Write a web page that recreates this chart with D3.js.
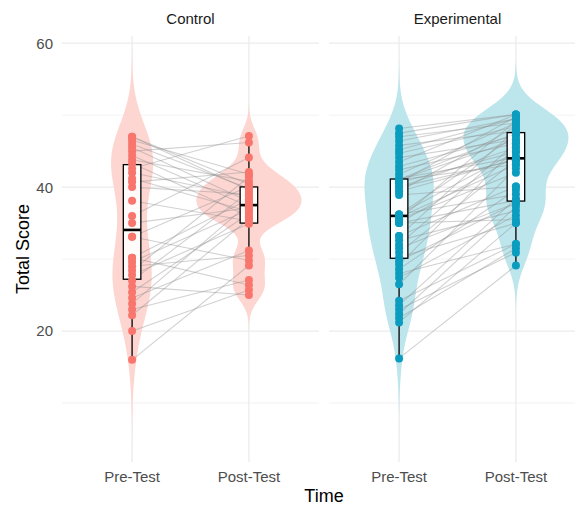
<!DOCTYPE html>
<html>
<head>
<meta charset="utf-8">
<script src="https://cdn.jsdelivr.net/npm/d3@7"></script>
<style>
  body { margin: 0; background: #fff; }
  text { font-family: "Liberation Sans", Arial, sans-serif; }
</style>
</head>
<body>
<div id="chart"></div>
<script>
// ---- data, pre/post paired by index ----
const groups = ["Control", "Experimental"];
const times = ["Pre-Test", "Post-Test"];

const controlPre = [16, 20, 22.2, 23.0, 23.8, 24.6, 25.4, 26.2, 27.0, 27.8, 28.4, 29.0, 29.6, 30.2, 30.2, 33.1, 33.1,
  35.0, 36.0, 38.1, 40.0, 40.7, 41.2, 42.0, 42.6, 43.3, 43.8, 44.4, 45.0, 45.5, 46.0, 46.5, 47.0, 47.0];
const controlPost = [29.1, 25.7, 35.6, 27.1, 37.7, 31.2, 36.3, 25.0, 39.3, 34.9, 41.4, 30.5, 36.9, 26.4, 38.3, 40.1, 29.8,
  37.1, 44.1, 35.3, 39.0, 42.1, 36.6, 38.65, 47.1, 35.9, 40.8, 37.3, 46.2, 38.0, 39.8, 41.8, 40.4, 39.6];

const expPre = [16.2, 21.2, 21.8, 22.4, 23.0, 23.6, 24.2, 26.5, 27.4, 28.0, 28.6, 29.2, 29.7,
  30.25, 30.9, 31.5, 32.0, 32.6, 33.2, 33.2, 35.0, 35.0, 35.0, 35.5, 35.5, 35.8, 36.2, 36.2, 36.2,
  38.9, 39.4, 39.4, 40.0, 40.0, 40.6, 40.6, 41.0, 41.0, 41.1,
  41.2, 41.8, 42.4, 42.9, 43.5, 44.1, 44.7, 45.2, 45.8, 46.4, 47.0, 47.5, 48.15];
const expPost = [29.1, 35.0, 31.5, 37.3, 30.9, 38.4, 32.1, 42.6, 36.1, 32.1, 39.6, 45.5, 37.8,
  35.0, 43.75, 37.8, 46.1, 36.7, 48.0, 40.1, 35.5, 44.3, 38.15, 49.2, 42.0, 43.15, 39.0, 47.2, 44.9,
  40.1, 48.4, 43.9, 45.5, 43.75, 49.8, 44.9, 46.6, 43.15, 47.5, 44.1, 48.9, 46.1, 47.2, 50.1, 46.6,
  48.4, 49.5, 47.8, 49.5, 48.9, 50.1, 50.1];

const yTicks = [20, 40, 60];
const yMinor = [10, 30, 50];

const violinFill = { Control: "#FDD6D2", Experimental: "#BDE5EC" };
const pointFill = { Control: "#F8766D", Experimental: "#0B9DBF" };

// ---- layout ----
const width = 575, height = 506;
const panelTop = 36, panelBottom = 462, panelW = 257;
const panelX = [62, 329];

const svg = d3.select("#chart").append("svg")
  .attr("width", width).attr("height", height);

const y = d3.scaleLinear().domain([1.8, 61]).range([panelBottom, panelTop]);
const x = d3.scalePoint().domain(times).range([0, panelW]).padding(0.6);

// gaussian kde like R's density() with bw.nrd0, untrimmed
function bwNrd0(v) {
  const s = v.slice().sort(d3.ascending);
  const sd = d3.deviation(s);
  const iqr = d3.quantile(s, 0.75) - d3.quantile(s, 0.25);
  let lo = Math.min(sd, iqr / 1.34);
  if (!lo) lo = sd || 1;
  return 0.9 * lo * Math.pow(s.length, -0.2);
}
function kde(v) {
  const bw = bwNrd0(v);
  const lo = d3.min(v) - 3 * bw, hi = d3.max(v) + 3 * bw;
  return d3.range(512).map(i => {
    const t = lo + (hi - lo) * i / 511;
    const s = d3.sum(v, d => Math.exp(-0.5 * ((t - d) / bw) ** 2));
    return { v: t, d: s / (v.length * bw * Math.sqrt(2 * Math.PI)) };
  });
}
function boxStats(v) {
  const s = v.slice().sort(d3.ascending);
  const q1 = d3.quantile(s, 0.25), med = d3.quantile(s, 0.5), q3 = d3.quantile(s, 0.75);
  const iqr = q3 - q1;
  const lo = d3.min(s.filter(d => d >= q1 - 1.5 * iqr));
  const hi = d3.max(s.filter(d => d <= q3 + 1.5 * iqr));
  return { q1, med, q3, lo, hi };
}

const panels = [
  { group: groups[0], pre: controlPre, post: controlPost },
  { group: groups[1], pre: expPre, post: expPost }
];

// y axis labels
svg.append("g").selectAll("text")
  .data(yTicks)
  .enter().append("text")
    .attr("x", 53)
    .attr("y", d => y(d))
    .attr("dy", "0.36em")
    .attr("text-anchor", "end")
    .style("font-size", "15px")
    .style("fill", "#4D4D4D")
    .text(d => d);

svg.append("text")
  .attr("transform", "translate(29," + ((panelTop + panelBottom) / 2) + ") rotate(-90)")
  .attr("text-anchor", "middle")
  .style("font-size", "18px")
  .style("fill", "#000")
  .text("Total Score");

svg.append("text")
  .attr("x", (panelX[0] + panelX[1] + panelW) / 2)
  .attr("y", 502)
  .attr("text-anchor", "middle")
  .style("font-size", "18px")
  .style("fill", "#000")
  .text("Time");

panels.forEach((p, pi) => {
  const g = svg.append("g").attr("transform", "translate(" + panelX[pi] + ",0)");

  // grid
  g.selectAll(".minor").data(yMinor).enter().append("line")
    .attr("x1", 0).attr("x2", panelW)
    .attr("y1", d => y(d)).attr("y2", d => y(d))
    .style("stroke", "#EFEFEF").style("stroke-width", 0.8);
  g.selectAll(".major").data(yTicks).enter().append("line")
    .attr("x1", 0).attr("x2", panelW)
    .attr("y1", d => y(d)).attr("y2", d => y(d))
    .style("stroke", "#EBEBEB").style("stroke-width", 1.3);
  g.selectAll(".vgrid").data(times).enter().append("line")
    .attr("x1", d => x(d)).attr("x2", d => x(d))
    .attr("y1", panelTop).attr("y2", panelBottom)
    .style("stroke", "#EBEBEB").style("stroke-width", 1.3);

  // strip label
  g.append("text")
    .attr("x", panelW / 2).attr("y", 24)
    .attr("text-anchor", "middle")
    .style("font-size", "15px")
    .style("fill", "#1A1A1A")
    .text(p.group);

  // x tick labels
  g.selectAll(".xlab").data(times).enter().append("text")
    .attr("x", d => x(d)).attr("y", 482)
    .attr("text-anchor", "middle")
    .style("font-size", "15px")
    .style("fill", "#4D4D4D")
    .text(d => d);

  // violins (scale = "area" within the panel)
  const series = [p.pre, p.post];
  const dens = series.map(kde);
  const maxD = d3.max(dens, ds => d3.max(ds, d => d.d));
  const halfW = 0.45 * x.step();
  dens.forEach((ds, i) => {
    const cx = x(times[i]);
    g.append("path")
      .datum(ds)
      .attr("d", d3.area()
        .y(d => y(d.v))
        .x0(d => cx - d.d / maxD * halfW)
        .x1(d => cx + d.d / maxD * halfW))
      .style("fill", violinFill[p.group])
      .style("stroke", "none");
  });

  // paired lines
  g.selectAll(".pair").data(d3.range(p.pre.length)).enter().append("line")
    .attr("x1", x(times[0])).attr("x2", x(times[1]))
    .attr("y1", i => y(p.pre[i])).attr("y2", i => y(p.post[i]))
    .style("stroke", "#8C8C8C").style("stroke-opacity", 0.4).style("stroke-width", 1.1);

  // boxplots
  series.forEach((v, i) => {
    const cx = x(times[i]);
    const b = boxStats(v);
    const bw = 0.15 * x.step();
    g.append("line").attr("x1", cx).attr("x2", cx).attr("y1", y(b.q3)).attr("y2", y(b.hi))
      .style("stroke", "#000").style("stroke-width", 1.3);
    g.append("line").attr("x1", cx).attr("x2", cx).attr("y1", y(b.q1)).attr("y2", y(b.lo))
      .style("stroke", "#000").style("stroke-width", 1.3);
    g.append("rect")
      .attr("x", cx - bw / 2).attr("width", bw)
      .attr("y", y(b.q3)).attr("height", y(b.q1) - y(b.q3))
      .style("fill", "#fff").style("fill-opacity", 0.9)
      .style("stroke", "#000").style("stroke-width", 1.3);
    g.append("line").attr("x1", cx - bw / 2).attr("x2", cx + bw / 2)
      .attr("y1", y(b.med)).attr("y2", y(b.med))
      .style("stroke", "#000").style("stroke-width", 2.6);
  });

  // points
  series.forEach((v, i) => {
    g.selectAll(".pt" + i).data(v).enter().append("circle")
      .attr("cx", x(times[i]))
      .attr("cy", d => y(d))
      .attr("r", 4)
      .style("fill", pointFill[p.group]);
  });
});
</script>
</body>
</html>
